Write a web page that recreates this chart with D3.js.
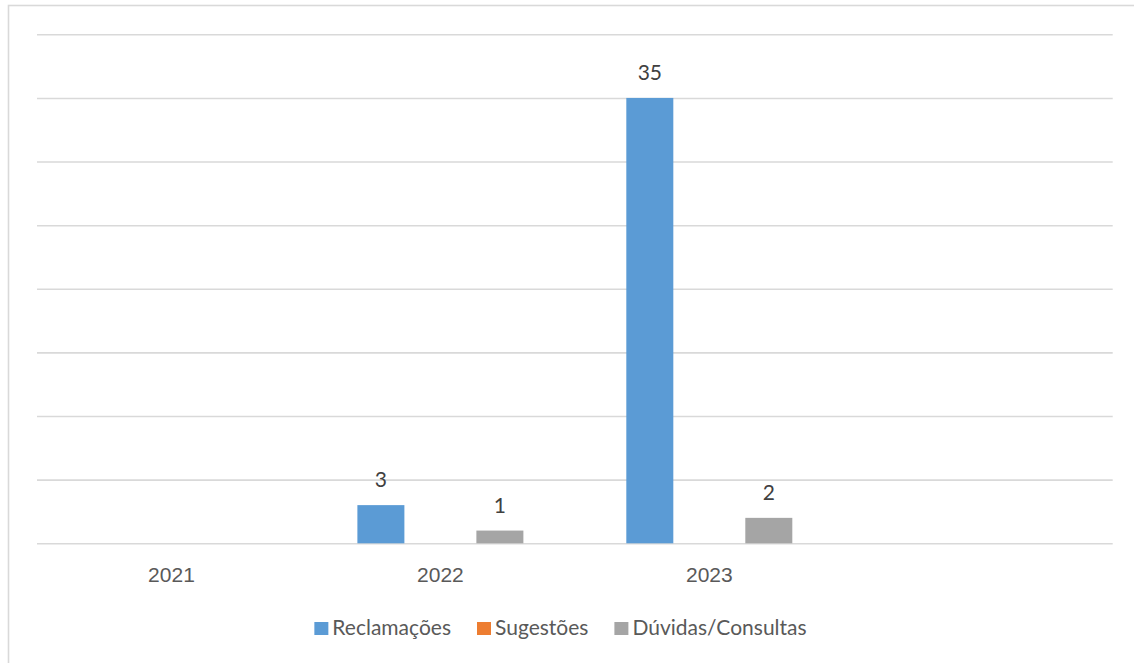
<!DOCTYPE html>
<meta charset="utf-8">
<style>
    body { margin: 0; background: #fff; }
    svg { font-family: Lato, "Open Sans", sans-serif; }
    .grid line { stroke: #d9d9d9; stroke-width: 1.6; }
    .grid .domain { display: none; }
    .xaxis .domain { display: none; }
    .xaxis text { fill: #595959; font-size: 21px; }
    .vlabel { fill: #404040; font-size: 21px; text-anchor: middle; }
    .legend text { fill: #595959; font-size: 21px; }
</style>
<body></body>
<script src="https://d3js.org/d3.v7.min.js"></script>
<script>
    // data
    var categories = ["2021", "2022", "2023", ""];
    var series = ["Reclamações", "Sugestões", "Dúvidas/Consultas"];
    var reclamacoes = [null, 3, 35, null];
    var sugestoes = [null, null, null, null];
    var duvidas = [null, 1, 2, null];
    var colors = ["#5b9bd5", "#ed7d31", "#a5a5a5"];
    var yTicks = [0, 5, 10, 15, 20, 25, 30, 35, 40];

    var values = [reclamacoes, sugestoes, duvidas];

    var width = 1134, height = 663;
    var plot = {left: 37, right: 1112.7, top: 34.3, bottom: 543.3};

    var svg = d3.select("body").append("svg")
        .attr("width", width)
        .attr("height", height);

    // chart border (runs off the right and bottom edges)
    svg.append("rect")
        .attr("x", 8.5).attr("y", 5.5)
        .attr("width", 1200).attr("height", 700)
        .attr("fill", "none")
        .attr("stroke", "#d9d9d9")
        .attr("stroke-width", 1.6);

    var x0 = d3.scaleBand()
        .domain(categories)
        .range([plot.left, plot.right])
        .padding(0);

    var x1 = d3.scaleBand()
        .domain(series)
        .range([0, 166])
        .paddingInner(0.21)
        .paddingOuter(0);

    var y = d3.scaleLinear()
        .domain([0, 40])
        .range([plot.bottom, plot.top]);

    // horizontal gridlines
    svg.append("g")
        .attr("class", "grid")
        .attr("transform", "translate(" + plot.left + ",0)")
        .call(d3.axisLeft(y).tickValues(yTicks).tickSize(-(plot.right - plot.left)).tickFormat(""));

    // category labels
    svg.append("g")
        .attr("class", "xaxis")
        .attr("transform", "translate(0," + plot.bottom + ")")
        .call(d3.axisBottom(x0).tickSize(0))
        .selectAll("text").attr("y", 38.5).attr("dy", 0);

    // flatten into bar records
    var bars = [];
    categories.forEach(function(c, i) {
        series.forEach(function(s, j) {
            if (values[j][i] != null) bars.push({cat: c, s: s, j: j, v: values[j][i]});
        });
    });

    function barX(d) {
        return x0(d.cat) + x0.bandwidth() / 2 - 83 + x1(d.s);
    }

    svg.selectAll(".bar")
        .data(bars)
        .enter().append("rect")
        .attr("class", "bar")
        .attr("x", barX)
        .attr("width", x1.bandwidth())
        .attr("y", function(d) { return y(d.v); })
        .attr("height", function(d) { return y(0) - y(d.v); })
        .attr("fill", function(d) { return colors[d.j]; });

    svg.selectAll(".vlabel")
        .data(bars)
        .enter().append("text")
        .attr("class", "vlabel")
        .attr("x", function(d) { return barX(d) + x1.bandwidth() / 2; })
        .attr("y", function(d) { return y(d.v) - 18; })
        .text(function(d) { return d.v; });

    // legend
    var gap = 26;
    var legend = svg.append("g").attr("class", "legend");
    var items = legend.selectAll("g")
        .data(series)
        .enter().append("g");
    items.append("rect")
        .attr("width", 14).attr("height", 13)
        .attr("y", 622)
        .attr("fill", function(d, i) { return colors[i]; });
    items.append("text")
        .attr("x", 18)
        .attr("y", 635)
        .text(function(d) { return d; });

    var pos = 0;
    items.each(function() {
        var w = this.querySelector("text").getComputedTextLength();
        d3.select(this).attr("data-x", pos);
        pos += 18 + w + gap;
    });
    var total = pos - gap;
    var startX = 560.5 - total / 2;
    items.attr("transform", function() {
        return "translate(" + (startX + (+this.getAttribute("data-x"))) + ",0)";
    });
</script>
